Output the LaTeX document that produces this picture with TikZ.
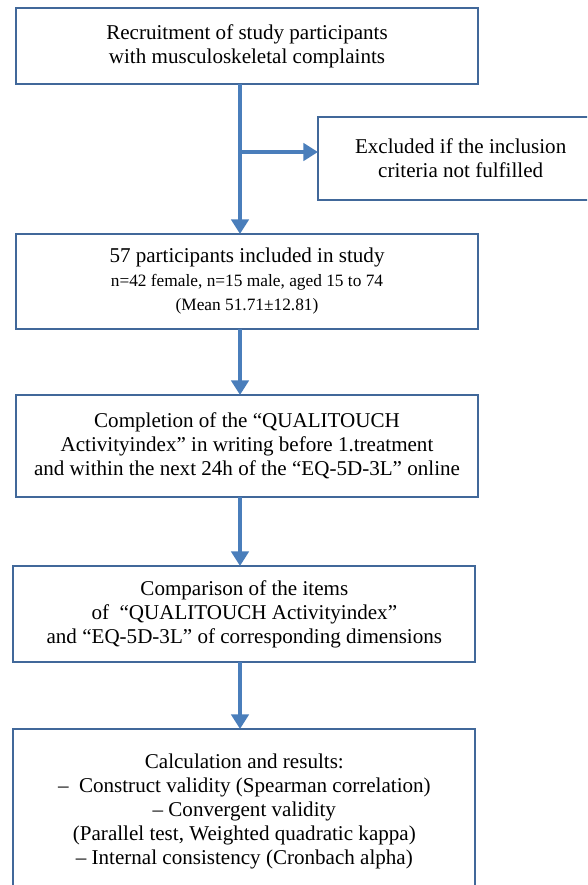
\documentclass[tikz,border=0pt]{standalone}
\usepackage{fontspec}
\setmainfont{Liberation Serif}
\usetikzlibrary{arrows.meta, positioning, calc}
\definecolor{flowblue}{HTML}{4A7EBB}
\definecolor{boxedge}{HTML}{41689A}

\newcommand{\smalltxt}{\fontsize{13}{15.75}\selectfont}

\begin{document}
\begin{tikzpicture}[
    >={Triangle[width=13pt,length=11pt]},
    every node/.style={align=center},
    block/.style={draw=boxedge, line width=1.6pt, fill=white, outer sep=0pt,
                  minimum width=346.5pt, minimum height=57pt, inner sep=4pt,
                  font=\fontsize{15.8}{18}\selectfont},
    flow/.style={->, draw=flowblue, line width=3.6pt}
]

% Page frame (587 x 885 px), the rest is cut off.
\useasboundingbox (0,0) rectangle (440.25pt,-663.75pt);
\clip (0,0) rectangle (440.25pt,-663.75pt);

% 1) Recruitment.
\node[block] (recruit) at (185.25pt,-34.5pt)
   {Recruitment of study participants\\with musculoskeletal complaints};
\coordinate (spine) at (180pt,0);

% 2) Exclusion branch.
\coordinate (branch) at ($(recruit.south -| spine)+(0,-51pt)$);
\node[block, minimum width=214pt, minimum height=62.25pt, anchor=west] (excluded)
   at ($(branch)+(58.5pt,-4.9pt)$)
   {Excluded if the inclusion\\criteria not fulfilled};

% 3) Participants included.
\node[block, minimum height=71.25pt, below=112.5pt of recruit] (included)
   {57 participants included in study\\
    \smalltxt n=42 female, n=15 male, aged 15 to 74\\
    \smalltxt (Mean 51.71±12.81)};

% 4) Questionnaires.
\node[block, minimum height=76.5pt, below=49.5pt of included] (questions)
   {Completion of the “QUALITOUCH\\
    Activityindex” in writing before 1.treatment\\
    and within the next 24h of the “EQ-5D-3L” online};

% 5) Comparison.
\node[block, minimum height=72pt, below=51.75pt of questions, xshift=-2pt] (compare)
   {Comparison of the items\\
    of \ “QUALITOUCH Activityindex”\\
    and “EQ-5D-3L” of corresponding dimensions};

% 6) Results.
\node[block, minimum height=123pt, below=50.25pt of compare] (results)
   {Calculation and results:\\
    --\ \ Construct validity (Spearman correlation)\\
    -- Convergent validity\\
    (Parallel test, Weighted quadratic kappa)\\
    -- Internal consistency (Cronbach alpha)};

% Arrows down the spine.
\draw[flow] (recruit.south -| spine) -- (included.north -| spine);
\draw[flow] (branch) -- (excluded.west |- branch);
\foreach \a/\b in {included/questions, questions/compare, compare/results} {
    \draw[flow] (\a.south -| spine) -- (\b.north -| spine);
}

\end{tikzpicture}
\end{document}
